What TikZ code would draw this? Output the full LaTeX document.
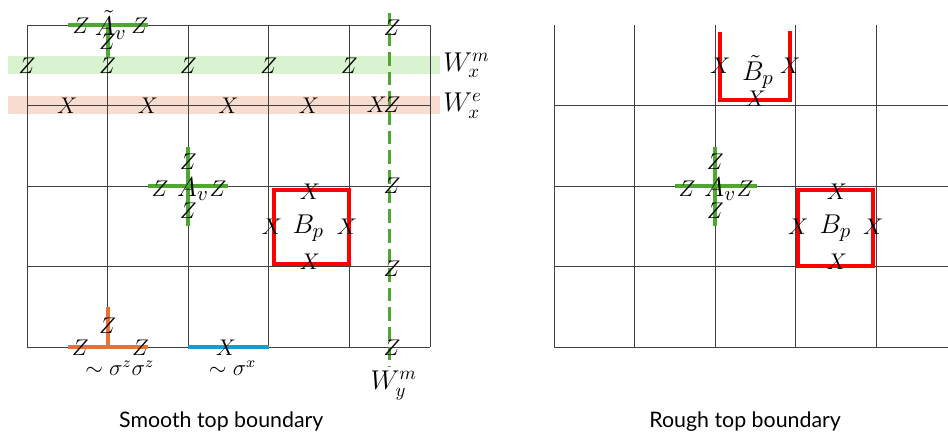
\documentclass[tikz,border=0pt]{standalone}
\usepackage{amsmath,amssymb}
\usepackage{fontspec}
\newfontfamily\capfont{Lato}
\usepackage{tikz}
\usetikzlibrary{positioning}
\usepackage{xcolor}
\definecolor{opgreen}{HTML}{4EA72E}
\definecolor{oporange}{HTML}{E97132}
\definecolor{opblue}{HTML}{0F9ED5}
\definecolor{bandgreen}{HTML}{D9F2D0}
\definecolor{bandred}{HTML}{F9DCD0}

\begin{document}
\begin{tikzpicture}[
  x=1.5cm,y=-1.5cm,
  gridline/.style={line width=0.5pt,black!75},
  op/.style={line width=2.1pt},
  redop/.style={line width=2.1pt,red,line join=miter},
  wline/.style={line width=1.6pt,opgreen,dash pattern=on 7.2pt off 3.2pt},
  lbl/.style={font=\large,inner sep=0pt},
  big/.style={font=\fontsize{15}{18}\selectfont,inner sep=0pt},
  wlbl/.style={font=\Large,inner sep=0pt},
  captext/.style={font=\capfont\fontsize{11.3}{13}\selectfont,inner sep=0pt}
]
\useasboundingbox (-0.335,-0.31) rectangle (11.427,5.136);
% ---------- Smooth top boundary ----------
% string bands W_x^m and W_x^e
\fill[bandgreen] (-0.236,0.385) rectangle (5.124,0.608);
\fill[bandred] (-0.236,0.88) rectangle (5.124,1.10);
% lattice
\foreach \x in {0,...,5} \draw[gridline] (\x,0) -- (\x,4);
\foreach \y in {0,...,4} \draw[gridline] (0,\y) -- (5,\y);
% boundary vertex operator
\draw[op,opgreen] (0.51,0) -- (1.5,0);
\draw[op,opgreen] (1,0) -- (1,0.4);
% bulk vertex operator
\draw[op,opgreen] (1.5,2) -- (2.5,2);
\draw[op,opgreen] (2,1.51) -- (2,2.5);
% plaquette operator
\draw[redop] (3.06,2.05) rectangle (3.99,2.96);
% W_y^m string
\coordinate (wyt) at (4.5,-0.15);
\coordinate (wyb) at (4.5,4.24);
\draw[wline] (wyt) -- (wyb);
% boundary edge terms
\draw[op,oporange] (0.51,4) -- (1.5,4);
\draw[op,oporange] (1,3.5) -- (1,4);
\draw[op,opblue] (2,4) -- (3,4);
% labels
\node[lbl] (tz1) at (0.67,0.01) {$Z$};
\node[big] (tAv) at (1.04,0.0) {$\tilde{A}_v$};
\node[lbl] (tz2) at (1.40,0.01) {$Z$};
\node[lbl] (tz3) at (1.0,0.21) {$Z$};
\foreach \i in {0,...,4} \node[lbl] (zm\i) at (\i,0.5) {$Z$};
\foreach \i in {0,...,3} \node[lbl] (xe\i) at (\i+0.5,1) {$X$};
\node[lbl] (xe4) at (4.34,0.99) {$X$};
\node[wlbl,anchor=west] (wxm) at (5.16,0.5) {$W_x^m$};
\node[wlbl,anchor=west] (wxe) at (5.16,1.0) {$W_x^e$};
\node[lbl] (az1) at (2.0,1.70) {$Z$};
\node[lbl] (az2) at (1.65,2.03) {$Z$};
\node[lbl] (az3) at (2.37,2.03) {$Z$};
\node[lbl] (az4) at (2.0,2.30) {$Z$};
\node[big] (Av) at (2.06,2.04) {$A_v$};
\node[lbl] (bx1) at (3.51,2.07) {$X$};
\node[lbl] (bx2) at (3.04,2.5) {$X$};
\node[lbl] (bx3) at (3.97,2.5) {$X$};
\node[lbl] (bx4) at (3.51,2.94) {$X$};
\node[big] (Bp) at (3.49,2.52) {$B_p$};
\foreach \y/\v in {0/0.04,1/0.99,2/2.0,3/3.02,4/4.0}
  \node[lbl] (wz\y) at (4.53,\v) {$Z$};
\node[wlbl] (wym) at (4.55,4.47) {$W_y^m$};
\node[lbl] (oz1) at (0.66,4.0) {$Z$};
\node[lbl] (oz2) at (1.0,3.73) {$Z$};
\node[lbl] (oz3) at (1.41,4.0) {$Z$};
\node[lbl] (szz) at (1.15,4.26) {$\sim\sigma^z\sigma^z$};
\node[lbl] (bx) at (2.47,4.0) {$X$};
\node[lbl] (sx) at (2.55,4.26) {$\sim\sigma^x$};
\node[captext] (smooth) at (2.41,4.92) {Smooth top boundary};
% ---------- Rough top boundary ----------
\begin{scope}[shift={(6.54,0)}]
\foreach \x in {0,...,4} \draw[gridline] (\x,0) -- (\x,4);
\foreach \y in {1,...,4} \draw[gridline] (0,\y) -- (4.887,\y);
% boundary plaquette
\draw[redop] (2.06,0.09) -- (2.06,0.93) -- (2.93,0.93) -- (2.93,0.07);
% vertex and plaquette
\draw[op,opgreen] (1.5,2) -- (2.52,2);
\draw[op,opgreen] (2,1.51) -- (2,2.5);
\draw[redop] (3.03,2.05) rectangle (3.96,2.99);
% labels
\node[lbl] (rtx1) at (2.06,0.5) {$X$};
\node[lbl] (rtx2) at (2.93,0.5) {$X$};
\node[lbl] (rtx3) at (2.5,0.91) {$X$};
\node[big] (rBt) at (2.53,0.58) {$\tilde{B}_p$};
\node[lbl] (raz1) at (2.0,1.70) {$Z$};
\node[lbl] (raz2) at (1.65,2.03) {$Z$};
\node[lbl] (raz3) at (2.37,2.03) {$Z$};
\node[lbl] (raz4) at (2.0,2.30) {$Z$};
\node[big] (rAv) at (2.06,2.04) {$A_v$};
\node[lbl] (rbx1) at (3.51,2.07) {$X$};
\node[lbl] (rbx2) at (3.03,2.5) {$X$};
\node[lbl] (rbx3) at (3.96,2.5) {$X$};
\node[lbl] (rbx4) at (3.51,2.94) {$X$};
\node[big] (rBp) at (3.49,2.52) {$B_p$};
\node[captext] (rough) at (2.37,4.92) {Rough top boundary};
\end{scope}
\end{tikzpicture}
\end{document}
